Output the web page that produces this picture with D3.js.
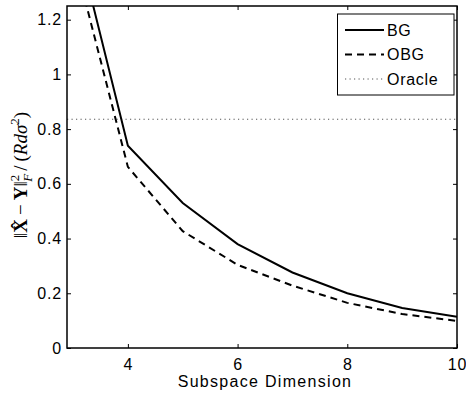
<!DOCTYPE html>
<html>
<head>
<meta charset="utf-8">
<script src="https://cdn.jsdelivr.net/npm/d3@7"></script>
<style>
  body { margin: 0; background: #fff; }
  svg { display: block; }
  text { font-family: "Liberation Sans", Arial, sans-serif; }
</style>
</head>
<body>
<div id="chart"></div>
<script>
// data
const dims = [3, 4, 5, 6, 7, 8, 9, 10];
const bg = [1.548, 0.739, 0.530, 0.380, 0.276, 0.200, 0.146, 0.114];
const obg = [1.443, 0.662, 0.427, 0.304, 0.228, 0.165, 0.124, 0.099];
const oracle = 0.836;
const xTicks = [4, 6, 8, 10];
const yTicks = [0, 0.2, 0.4, 0.6, 0.8, 1, 1.2];

const width = 466, height = 398;
const plotL = 67, plotR = 457, plotT = 6, plotB = 348;

const svg = d3.select('#chart').append('svg')
    .attr('width', width)
    .attr('height', height);

const x = d3.scaleLinear().domain([2.89, 10]).range([plotL, plotR]);
const y = d3.scaleLinear().domain([0, 1.25]).range([plotB, plotT]);

svg.append('defs').append('clipPath').attr('id', 'plot')
    .append('rect')
    .attr('x', plotL).attr('y', plotT)
    .attr('width', plotR - plotL).attr('height', plotB - plotT);

const plot = svg.append('g').attr('clip-path', 'url(#plot)');

const line = d3.line().x((d, i) => x(dims[i])).y(d => y(d));

plot.append('line')
    .attr('x1', plotL).attr('x2', plotR)
    .attr('y1', y(oracle)).attr('y2', y(oracle))
    .attr('stroke', '#555')
    .attr('stroke-width', 1.2)
    .attr('stroke-dasharray', '1.2,3.3');

plot.append('path')
    .datum(obg)
    .attr('d', line)
    .attr('fill', 'none')
    .attr('stroke', '#000')
    .attr('stroke-width', 2)
    .attr('stroke-dasharray', '7,5');

plot.append('path')
    .datum(bg)
    .attr('d', line)
    .attr('fill', 'none')
    .attr('stroke', '#000')
    .attr('stroke-width', 2);

// axes with inward ticks on all four sides
const tickLen = 4;
const fontSize = 16;

const xb = svg.append('g')
    .attr('transform', `translate(0,${plotB})`)
    .call(d3.axisBottom(x).tickValues(xTicks).tickFormat(d3.format('d'))
        .tickSizeInner(-tickLen).tickSizeOuter(0).tickPadding(11));
const xt = svg.append('g')
    .attr('transform', `translate(0,${plotT})`)
    .call(d3.axisTop(x).tickValues(xTicks).tickFormat('')
        .tickSizeInner(-tickLen).tickSizeOuter(0));
const yl = svg.append('g')
    .attr('transform', `translate(${plotL},0)`)
    .call(d3.axisLeft(y).tickValues(yTicks).tickFormat(d3.format('~g'))
        .tickSizeInner(-tickLen).tickSizeOuter(0).tickPadding(5));
const yr = svg.append('g')
    .attr('transform', `translate(${plotR},0)`)
    .call(d3.axisRight(y).tickValues(yTicks).tickFormat('')
        .tickSizeInner(-tickLen).tickSizeOuter(0));

[xb, xt, yl, yr].forEach(g => {
    g.select('.domain').remove();
    g.selectAll('.tick line').attr('stroke', '#000').attr('stroke-width', 1);
    g.selectAll('.tick text')
        .attr('fill', '#000')
        .style('font-size', fontSize + 'px')
        .style('letter-spacing', '0.8px')
        .style('font-family', '"Liberation Sans", Arial, sans-serif');
});

svg.append('rect')
    .attr('x', plotL).attr('y', plotT)
    .attr('width', plotR - plotL).attr('height', plotB - plotT)
    .attr('fill', 'none')
    .attr('stroke', '#000')
    .attr('stroke-width', 1.5);

// x label
svg.append('text')
    .attr('x', (plotL + plotR) / 2 + 3)
    .attr('y', 387)
    .attr('text-anchor', 'middle')
    .style('font-size', '16px')
    .style('letter-spacing', '1.3px')
    .text('Subspace Dimension');

// y label (math)
const yLabel = svg.append('text')
    .attr('transform', 'translate(27,175) rotate(-90)')
    .attr('text-anchor', 'middle')
    .style('font-family', '"Liberation Serif", "DejaVu Serif", serif')
    .style('font-size', '19px');
yLabel.append('tspan').text('\u2016');
yLabel.append('tspan').style('font-weight', 'bold').text('X\u0302');
yLabel.append('tspan').attr('dx', 4).text('\u2212');
yLabel.append('tspan').attr('dx', 4).style('font-weight', 'bold').text('Y');
yLabel.append('tspan').text('\u2016');
yLabel.append('tspan').attr('dy', -8).style('font-size', '13px').text('2');
yLabel.append('tspan').attr('dx', -7).attr('dy', 13).style('font-size', '13px')
    .style('font-style', 'italic').text('F');
yLabel.append('tspan').attr('dx', 3).attr('dy', -5).text('/');
yLabel.append('tspan').attr('dx', 4).text('(');
yLabel.append('tspan').style('font-style', 'italic').text('Rd\u03c3');
yLabel.append('tspan').attr('dy', -8).style('font-size', '13px').text('2');
yLabel.append('tspan').attr('dy', 8).text(')');

// legend
const legendItems = [
    { name: 'BG', dash: null, width: 2, color: '#000' },
    { name: 'OBG', dash: '7,5', width: 2, color: '#000' },
    { name: 'Oracle', dash: '1.2,3.3', width: 1.2, color: '#555' }
];
const lg = svg.append('g');
lg.append('rect')
    .attr('x', 337.5).attr('y', 14)
    .attr('width', 116.5).attr('height', 81)
    .attr('fill', '#fff')
    .attr('stroke', '#000')
    .attr('stroke-width', 1);
const ly = d3.scalePoint().domain(legendItems.map(d => d.name)).range([30, 79]);
legendItems.forEach(d => {
    lg.append('line')
        .attr('x1', 345).attr('x2', 384)
        .attr('y1', ly(d.name)).attr('y2', ly(d.name))
        .attr('stroke', d.color)
        .attr('stroke-width', d.width)
        .attr('stroke-dasharray', d.dash);
    lg.append('text')
        .attr('x', 387)
        .attr('y', ly(d.name))
        .attr('dy', '0.36em')
        .style('font-size', '16px')
        .style('letter-spacing', '0.7px')
        .text(d.name);
});
</script>
</body>
</html>
